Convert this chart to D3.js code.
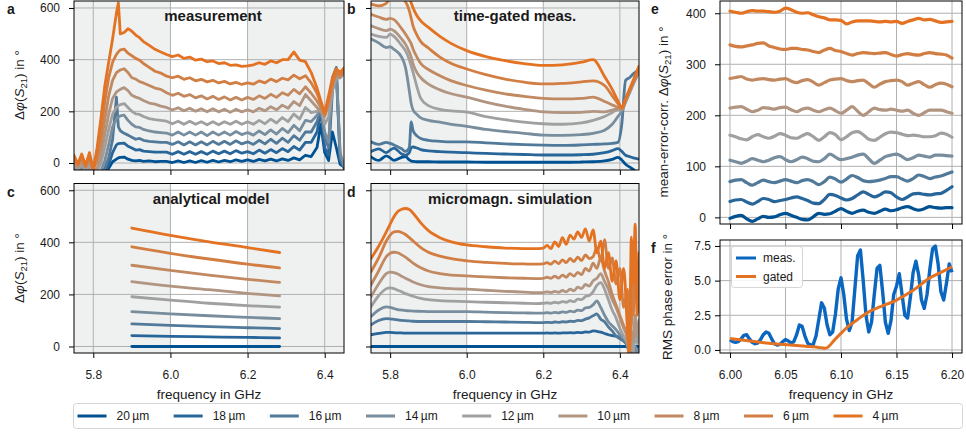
<!DOCTYPE html>
<html>
<head>
<meta charset="utf-8">
<script src="https://cdn.jsdelivr.net/npm/d3@7"></script>
<style>
  body { margin: 0; background: #fff; }
  svg text { font-family: "Liberation Sans", Arial, sans-serif; fill: #1a1a1a; }
</style>
</head>
<body>
<svg id="chart" width="966" height="432"></svg>
<script>
// widths of the waveguides, legend order (20 µm first)
const widths = ['20', '18', '16', '14', '12', '10', '8', '6', '4'];
const widthColors = ['#005293', '#28669a', '#50799a', '#788d9d', '#a0a0a0', '#b19581', '#c28961', '#d27e42', '#e37222'];

// a: measurement
const freqMeas = [5.75, 5.76, 5.77, 5.78, 5.79, 5.80, 5.81, 5.82, 5.83, 5.84, 5.85, 5.86, 5.865, 5.87, 5.88, 5.89, 5.90, 5.91, 5.92, 5.93,
  5.945, 5.96, 5.975, 5.99, 6.005, 6.02, 6.035, 6.05, 6.065, 6.08, 6.095, 6.11, 6.125, 6.14, 6.155, 6.17, 6.185, 6.20, 6.215, 6.23,
  6.245, 6.26, 6.275, 6.29, 6.305, 6.32, 6.335, 6.35, 6.365, 6.38, 6.39, 6.40, 6.41, 6.42, 6.43, 6.44, 6.45];
const phaseMeas = [
  [-35, -45, -35, -50, -40, -55, -55, -50, -40, -20, 5, 15, 20, 22, 23, 15, 10, 8, 10, 6, 8, 5, 6, 6, 2, 8, 2, 8, 2, 9,
    3, 10, 4, 10, 5, 12, 6, 12, 6, 14, 8, 15, 8, 16, 10, 20, 12, 30, 25, 60, 150, 40, 10, 120, 60, -5, -15],
  [-30, -40, -30, -45, -35, -50, -50, -45, -35, -5, 40, 70, 75, 76, 77, 65, 58, 50, 52, 46, 44, 42, 42, 42, 34, 44, 34, 44, 34, 44,
    34, 46, 36, 46, 36, 48, 38, 44, 36, 50, 38, 52, 40, 56, 44, 64, 50, 80, 80, 120, 200, 60, 30, 280, 350, 10, -20],
  [-25, -35, -25, -40, -30, -45, -45, -40, -20, 20, 90, 255, 140, 125, 115, 108, 100, 92, 95, 88, 84, 82, 80, 80, 72, 82, 70, 82, 70, 82,
    70, 84, 72, 84, 72, 86, 74, 82, 72, 88, 74, 92, 76, 96, 80, 106, 88, 120, 120, 160, 205, 100, 60, 330, 370, 20, -15],
  [-20, -30, -15, -35, -20, -40, -40, -30, 10, 70, 140, 170, 178, 182, 185, 165, 150, 140, 138, 130, 124, 120, 118, 116, 108, 120, 108, 120, 108, 120,
    106, 120, 108, 120, 108, 122, 110, 118, 108, 124, 110, 128, 112, 134, 118, 146, 125, 165, 160, 185, 210, 120, 80, 300, 360, 40, -10],
  [-10, -25, -5, -30, -10, -35, -30, 0, 60, 130, 190, 215, 222, 226, 230, 215, 200, 190, 188, 180, 172, 168, 165, 162, 152, 162, 150, 162, 150, 160,
    148, 160, 148, 160, 150, 162, 150, 160, 150, 165, 152, 170, 155, 176, 160, 190, 170, 215, 195, 200, 215, 150, 180, 280, 330, 330, 345],
  [0, -15, 5, -20, 5, -30, -20, 30, 110, 190, 250, 275, 280, 285, 292, 280, 262, 255, 250, 242, 232, 228, 220, 215, 205, 214, 202, 212, 200, 210,
    198, 210, 198, 208, 196, 208, 198, 206, 198, 212, 202, 218, 206, 224, 212, 238, 222, 265, 240, 215, 200, 180, 225, 295, 340, 330, 350],
  [10, -10, 15, -15, 20, -25, 10, 70, 170, 260, 320, 350, 355, 360, 365, 350, 330, 325, 315, 310, 300, 290, 285, 272, 262, 270, 258, 265, 252, 260,
    248, 258, 246, 256, 244, 254, 244, 254, 246, 260, 250, 266, 254, 272, 262, 285, 268, 295, 270, 240, 215, 185, 230, 300, 345, 335, 355],
  [20, 0, 25, -5, 30, -20, 30, 120, 240, 330, 390, 420, 430, 438, 441, 425, 415, 405, 398, 385, 370, 355, 348, 336, 330, 336, 324, 330, 318, 324,
    314, 320, 310, 316, 306, 312, 304, 310, 305, 318, 310, 325, 315, 328, 322, 340, 326, 338, 310, 270, 230, 190, 240, 310, 350, 340, 360],
  [30, -5, 35, -10, 40, -25, 60, 175, 300, 390, 480, 580, 620, 500, 505, 520, 510, 495, 485, 470, 455, 440, 430, 420, 412, 418, 405, 410, 398, 402,
    392, 395, 385, 388, 378, 380, 374, 376, 380, 388, 382, 395, 388, 400, 400, 430, 398, 392, 350, 290, 240, 195, 260, 330, 365, 350, 368]
];

// b: time-gated measurement
const freqGated = [5.75, 5.77, 5.79, 5.80, 5.81, 5.83, 5.84, 5.85, 5.855, 5.86, 5.87, 5.88, 5.90, 5.93, 5.96, 6.00,
  6.05, 6.10, 6.15, 6.20, 6.25, 6.30, 6.33, 6.36, 6.38, 6.395, 6.405, 6.415, 6.425, 6.435, 6.45];
const phaseGated = [
  [24, 10, 28, 20, 10, 22, 25, 12, 8, 6, 5, 5, 5, 4, 4, 4, 3, 3, 3, 3, 3, 4, 5, 8, 14, 22, 12, -5, -15, -25, -45],
  [44, 55, 40, 50, 58, 35, 30, 40, 60, 62, 58, 52, 47, 44, 42, 40, 37, 35, 33, 31, 31, 32, 34, 40, 48, 56, 45, 30, 25, 20, 15],
  [82, 72, 80, 76, 70, 55, 45, 60, 159, 125, 105, 95, 88, 84, 82, 82, 78, 74, 71, 69, 68, 70, 72, 74, 76, 80, 150, 320, 330, 345, 360],
  [480, 465, 447, 450, 440, 410, 370, 280, 230, 205, 188, 175, 165, 158, 150, 142, 130, 122, 115, 108, 107, 110, 115, 127, 150, 180, 200, 235, 270, 305, 352],
  [499, 490, 486, 499, 490, 455, 435, 400, 375, 350, 295, 250, 222, 208, 202, 197, 180, 168, 158, 152, 150, 155, 165, 180, 195, 208, 206, 240, 276, 310, 356],
  [531, 520, 512, 518, 512, 480, 460, 430, 410, 383, 350, 330, 305, 283, 268, 255, 236, 220, 208, 198, 195, 196, 200, 198, 205, 210, 208, 242, 278, 312, 358],
  [576, 565, 556, 560, 555, 520, 499, 475, 462, 440, 410, 385, 362, 338, 318, 300, 282, 268, 258, 250, 248, 250, 255, 238, 225, 215, 210, 245, 280, 315, 362],
  [615, 608, 618, 640, 650, 640, 625, 590, 560, 530, 495, 470, 445, 410, 385, 364, 342, 325, 313, 306, 308, 314, 318, 300, 260, 230, 212, 245, 280, 315, 365],
  [680, 690, 700, 700, 695, 680, 665, 640, 620, 600, 570, 550, 525, 490, 462, 435, 412, 396, 385, 378, 380, 390, 400, 335, 285, 240, 215, 250, 285, 320, 375]
];

// c: analytical model
const freqModel = [5.9, 6.0, 6.1, 6.2, 6.283];
const phaseModel = [
  [0, 0, 0, 0, 0],
  [42, 39, 37, 35, 33],
  [87, 81, 76, 72, 69],
  [134, 125, 118, 112, 107],
  [191, 178, 166, 157, 151],
  [249, 232, 218, 204, 194],
  [312, 292, 274, 258, 246],
  [383, 358, 336, 316, 302],
  [455, 427, 402, 380, 361]
];

// d: micromagnetic simulation
const freqSim = [5.75, 5.77, 5.79, 5.80, 5.81, 5.82, 5.83, 5.84, 5.85, 5.86, 5.88, 5.90, 5.93, 5.96, 6.00, 6.05, 6.10, 6.15, 6.18, 6.20,
  6.21, 6.22, 6.23, 6.24, 6.25, 6.26, 6.27, 6.28, 6.29, 6.30, 6.31, 6.32, 6.33, 6.34, 6.35, 6.36, 6.37, 6.38, 6.39, 6.40,
  6.41, 6.42, 6.425, 6.43, 6.435, 6.44, 6.445, 6.45];
const phaseSim = [
  [0, 0, 0, 0, 0, 0, 0, 0, 0, 0, 0, 0, 0, 0, 0, 0, 0, 0, 0, 0, 0, 0, 0, 0, 0, 0, 0, 0, 0, 0, 0, 0, 0, 0, 0, 0, 0, 0, 0, 0, 0, 0, 0, 0, 0, 0, 0, 0],
  [45, 50, 54, 54, 53, 52, 52, 51, 51, 51, 51, 51, 51, 51, 51, 51, 51, 51, 51, 51, 52, 51, 52, 51, 52, 52, 53, 52, 54, 53,
    56, 55, 60, 58, 55, 50, 45, 42, 40, 35, 25, 10, -20, -5, -30, -10, -20, -15],
  [83, 100, 107, 106, 104, 102, 100, 99, 98, 97, 96, 96, 96, 96, 96, 95, 94, 93, 92, 92, 93, 92, 94, 93, 95, 94, 97, 96, 100, 99,
    105, 110, 118, 125, 105, 95, 75, 60, 40, 30, 20, 0, -30, 5, -20, -5, -15, -10],
  [115, 140, 152, 150, 146, 142, 140, 138, 137, 136, 135, 134, 134, 134, 134, 132, 130, 129, 128, 128, 130, 128, 131, 129, 133, 131, 136, 133, 140, 138,
    148, 150, 160, 175, 150, 120, 95, 80, 65, 45, 30, 10, -20, 10, -30, 0, -20, -10],
  [153, 195, 222, 225, 222, 216, 210, 203, 198, 193, 185, 180, 176, 174, 172, 170, 168, 166, 165, 166, 168, 166, 170, 167, 172, 170, 176, 172, 182, 180,
    192, 196, 210, 235, 245, 220, 180, 140, 110, 70, 40, 10, -30, 20, -20, 60, 10, 40],
  [191, 240, 280, 286, 284, 278, 270, 262, 255, 248, 237, 230, 225, 222, 220, 216, 212, 209, 207, 207, 210, 207, 212, 208, 215, 210, 220, 214, 228, 222,
    238, 232, 252, 262, 280, 250, 220, 180, 150, 110, 70, 30, -10, 60, 20, 120, 40, 100],
  [236, 290, 345, 358, 362, 360, 352, 343, 332, 320, 302, 290, 280, 274, 271, 267, 264, 262, 261, 262, 266, 262, 270, 263, 274, 266, 280, 270, 285, 276,
    300, 290, 320, 300, 340, 290, 250, 200, 160, 120, 80, 40, -20, 80, 180, 260, 160, 240],
  [287, 340, 405, 428, 440, 442, 438, 430, 418, 405, 380, 362, 347, 337, 329, 323, 319, 317, 316, 317, 322, 316, 328, 318, 333, 322, 338, 326, 343, 330,
    352, 338, 345, 380, 330, 410, 300, 340, 240, 300, 150, 220, 60, 300, 120, 410, 200, 330],
  [338, 385, 440, 470, 498, 518, 527, 530, 526, 512, 475, 445, 418, 402, 390, 383, 378, 376, 376, 378, 388, 376, 402, 384, 418, 392, 428, 412, 440, 418,
    452, 405, 448, 360, 405, 300, 360, 250, 330, 180, 300, 60, -40, 420, 240, 470, 120, 360]
];

// e: mean-error-corrected measurement
const freqCorr = [6.000, 6.005, 6.010, 6.015, 6.020, 6.025, 6.030, 6.035, 6.040, 6.045, 6.050, 6.055, 6.060, 6.065, 6.070, 6.075, 6.080,
  6.085, 6.090, 6.095, 6.100, 6.105, 6.110, 6.115, 6.120, 6.125, 6.130, 6.135, 6.140, 6.145, 6.150, 6.155, 6.160, 6.165, 6.170,
  6.175, 6.180, 6.185, 6.190, 6.195, 6.200];
const phaseCorr = [
  [-2, 2, 4, -3, -8, -3, 2, 0, 1, 5, 8, 4, 0, -4, -5, 1, 8, 6, 7, 12, 17, 12, 8, 12, 14, 10, 8, 12, 16, 13, 15, 19, 21, 17, 14, 17, 21, 19, 18, 19, 19],
  [31, 34, 35, 30, 26, 31, 37, 35, 31, 33, 35, 38, 40, 37, 33, 28, 27, 35, 45, 43, 38, 34, 37, 44, 50, 45, 40, 44, 50, 48, 40, 35, 40, 46, 47, 45, 44, 46, 47, 53, 60],
  [70, 73, 74, 68, 63, 68, 73, 70, 68, 71, 74, 71, 68, 72, 74, 70, 64, 70, 79, 75, 69, 75, 82, 78, 72, 70, 71, 73, 76, 80, 80, 75, 71, 76, 83, 80, 76, 79, 81, 85, 89],
  [112, 109, 106, 110, 115, 112, 109, 112, 117, 119, 113, 109, 113, 118, 115, 110, 109, 115, 124, 118, 113, 115, 118, 122, 124, 115, 106, 112, 119, 122, 124, 119, 113, 117, 122, 120, 118, 122, 122, 121, 120],
  [161, 158, 154, 152, 158, 162, 158, 155, 159, 164, 161, 156, 155, 160, 164, 158, 151, 158, 166, 162, 152, 158, 166, 168, 162, 153, 151, 157, 164, 167, 166, 163, 160, 161, 160, 158, 158, 160, 165, 163, 157],
  [214, 216, 217, 212, 207, 210, 215, 214, 212, 215, 216, 211, 207, 212, 214, 210, 207, 211, 214, 209, 204, 210, 217, 208, 200, 207, 214, 211, 210, 212, 210, 208, 210, 204, 200, 205, 210, 210, 210, 207, 204],
  [272, 274, 276, 271, 269, 271, 272, 270, 269, 271, 272, 267, 264, 268, 270, 265, 259, 264, 269, 271, 272, 268, 266, 268, 269, 262, 255, 261, 266, 268, 269, 266, 259, 263, 266, 260, 255, 260, 263, 261, 256],
  [338, 335, 334, 336, 338, 341, 342, 336, 333, 330, 329, 331, 331, 329, 328, 325, 323, 328, 331, 327, 325, 321, 318, 321, 323, 322, 321, 322, 323, 319, 316, 319, 321, 319, 318, 321, 323, 321, 320, 318, 312],
  [404, 402, 400, 403, 405, 404, 404, 403, 402, 404, 410, 407, 402, 400, 401, 397, 393, 391, 387, 387, 386, 379, 383, 385, 385, 385, 384, 383, 384, 383, 384, 380, 384, 387, 390, 387, 388, 385, 382, 383, 384]
];

// f: RMS phase error
const freqRms = [6.0000, 6.0025, 6.0050, 6.0075, 6.0100, 6.0125, 6.0150, 6.0175, 6.0200, 6.0225, 6.0250, 6.0275, 6.0300, 6.0325,
  6.0350, 6.0375, 6.0400, 6.0425, 6.0450, 6.0475, 6.0500, 6.0525, 6.0550, 6.0575, 6.0600, 6.0625, 6.0650, 6.0675, 6.0700, 6.0725,
  6.0750, 6.0775, 6.0800, 6.0825, 6.0850, 6.0875, 6.0900, 6.0925, 6.0950, 6.0975, 6.1000, 6.1025, 6.1050, 6.1075, 6.1100, 6.1125,
  6.1150, 6.1175, 6.1200, 6.1225, 6.1250, 6.1275, 6.1300, 6.1325, 6.1350, 6.1375, 6.1400, 6.1425, 6.1450, 6.1475, 6.1500, 6.1525,
  6.1550, 6.1575, 6.1600, 6.1625, 6.1650, 6.1675, 6.1700, 6.1725, 6.1750, 6.1775, 6.1800, 6.1825, 6.1850, 6.1875, 6.1900, 6.1925,
  6.1950, 6.1975, 6.2000];
const rmsMeas = [0.75, 0.6, 0.55, 0.6, 0.8, 1.05, 1.1, 0.8, 0.55, 0.45, 0.5, 0.75, 1.1, 1.3, 1.2, 0.8, 0.45, 0.35, 0.4, 0.6,
  0.75, 0.65, 0.5, 0.6, 1.1, 1.8, 1.7, 1.0, 0.5, 0.35, 0.4, 1.0, 2.2, 3.4, 3.0, 1.8, 1.1, 1.3, 2.6, 4.4,
  5.2, 4.0, 2.2, 1.4, 2.0, 4.4, 6.8, 7.2, 5.0, 2.5, 1.3, 2.0, 4.0, 5.9, 6.1, 4.2, 2.0, 1.2, 2.1, 4.0,
  4.6, 5.5, 4.0, 2.5, 2.3, 3.8, 5.6, 6.4, 5.4, 3.6, 3.0, 4.0, 5.8, 7.3, 7.5, 6.2, 4.2, 3.6, 4.8, 6.2, 5.6];
const freqRmsGated = [6.00, 6.02, 6.04, 6.06, 6.08, 6.086, 6.095, 6.105, 6.115, 6.125, 6.135, 6.15, 6.165, 6.18, 6.19, 6.20];
const rmsGated = [0.82, 0.62, 0.45, 0.32, 0.18, 0.12, 0.8, 1.6, 2.2, 2.75, 3.1, 3.6, 4.3, 5.2, 5.6, 6.0];
const rmsLabels = ['meas.', 'gated'];
const rmsColors = ['#0b66bf', '#e37222'];

const bandTicks = [5.8, 6.0, 6.2, 6.4];
const phaseTicks = [0, 200, 400, 600];
const corrTicks = [0, 100, 200, 300, 400];
const zoomTicks = [6.00, 6.05, 6.10, 6.15, 6.20];
const rmsTicks = [0, 2.5, 5.0, 7.5];

const svg = d3.select('#chart');
const grid = '#b0b0b0';
const shadeColor = '#eff0f0';

const panel = (p) => {
  const x = d3.scaleLinear().domain(p.xDomain).range([p.left, p.right]);
  const y = d3.scaleLinear().domain(p.yDomain).range([p.bottom, p.top]);
  const g = svg.append('g');

  g.append('rect')
    .attr('x', p.left).attr('y', p.top)
    .attr('width', p.right - p.left).attr('height', p.bottom - p.top)
    .attr('fill', '#fff');

  if (p.shade) {
    g.append('rect')
      .attr('x', p.left).attr('y', p.top)
      .attr('width', x(6.0) - p.left).attr('height', p.bottom - p.top)
      .attr('fill', shadeColor);
    g.append('rect')
      .attr('x', x(6.2)).attr('y', p.top)
      .attr('width', p.right - x(6.2)).attr('height', p.bottom - p.top)
      .attr('fill', shadeColor);
  }

  g.selectAll('.gx').data(p.xTicks).enter().append('line')
    .attr('x1', d => x(d)).attr('x2', d => x(d))
    .attr('y1', p.top).attr('y2', p.bottom)
    .attr('stroke', grid).attr('stroke-width', 1);
  g.selectAll('.gy').data(p.yTicks).enter().append('line')
    .attr('x1', p.left).attr('x2', p.right)
    .attr('y1', d => y(d)).attr('y2', d => y(d))
    .attr('stroke', grid).attr('stroke-width', 1);

  const clipId = 'clip-' + p.name;
  svg.append('clipPath').attr('id', clipId).append('rect')
    .attr('x', p.left).attr('y', p.top)
    .attr('width', p.right - p.left).attr('height', p.bottom - p.top);
  const plot = g.append('g').attr('clip-path', `url(#${clipId})`);

  const xAxis = g.append('g')
    .attr('transform', `translate(0,${p.bottom})`)
    .call(d3.axisBottom(x).tickValues(p.xTicks).tickSize(5).tickPadding(12)
      .tickFormat(p.xFormat ? d3.format(p.xFormat) : () => ''));
  const yAxis = g.append('g')
    .attr('transform', `translate(${p.left},0)`)
    .call(d3.axisLeft(y).tickValues(p.yTicks).tickSize(5).tickPadding(p.yPad || 9)
      .tickFormat(p.yFormat ? d3.format(p.yFormat) : () => ''));
  [xAxis, yAxis].forEach(a => {
    a.select('.domain').remove();
    a.selectAll('line').attr('stroke', '#000');
    a.selectAll('text').attr('font-size', 12).attr('fill', '#1a1a1a')
      .style('font-family', '"Liberation Sans", Arial, sans-serif');
  });

  g.append('rect')
    .attr('x', p.left).attr('y', p.top)
    .attr('width', p.right - p.left).attr('height', p.bottom - p.top)
    .attr('fill', 'none').attr('stroke', '#000').attr('stroke-width', 1);

  if (p.title) {
    g.append('text').attr('x', p.titleX).attr('y', p.top + 20)
      .attr('text-anchor', 'middle').attr('font-size', 15).attr('font-weight', 'bold')
      .text(p.title);
  }
  g.append('text').attr('x', p.letterX).attr('y', p.top + 13)
    .attr('font-size', 14).attr('font-weight', 'bold').text(p.letter);

  return { x, y, plot, g };
};

const phaseLabel = (g, cx, cy, prefix) => {
  const t = g.append('text')
    .attr('transform', `translate(${cx},${cy}) rotate(-90)`)
    .attr('text-anchor', 'middle').attr('font-size', 13.5);
  t.append('tspan').text(prefix + 'Δ');
  t.append('tspan').attr('font-style', 'italic').text('φ');
  t.append('tspan').text('(');
  t.append('tspan').attr('font-style', 'italic').text('S');
  t.append('tspan').attr('font-size', 9.5).attr('dy', 3).text('21');
  t.append('tspan').attr('dy', -3).text(')');
  t.append('tspan').text(' in °');
};

const drawSeries = (pn, freqs, sets, curve, width) => {
  const line = d3.line()
    .x((d, i) => pn.x(freqs[i]))
    .y(d => pn.y(d))
    .curve(curve);
  pn.plot.selectAll('.series').data(sets).enter().append('path')
    .attr('d', d => line(d))
    .attr('fill', 'none')
    .attr('stroke', (d, i) => widthColors[i])
    .attr('stroke-width', width)
    .attr('stroke-linejoin', 'round')
    .attr('stroke-linecap', 'round');
};

const bandX = [5.75, 6.45];
const phaseY = [-27, 627];
const phaseY2 = [-25, 626];

const pa = panel({ name: 'a', left: 74, right: 344, top: 1, bottom: 170, xDomain: bandX, yDomain: phaseY,
  xTicks: bandTicks, yTicks: phaseTicks, yFormat: 'd', shade: true, title: 'measurement', titleX: 213, letter: 'a', letterX: 7 });
drawSeries(pa, freqMeas, phaseMeas, d3.curveLinear, 2.8);

const pb = panel({ name: 'b', left: 371, right: 639, top: 1, bottom: 170, xDomain: bandX, yDomain: phaseY,
  xTicks: bandTicks, yTicks: phaseTicks, shade: true, title: 'time-gated meas.', titleX: 515, letter: 'b', letterX: 347 });
drawSeries(pb, freqGated, phaseGated, d3.curveMonotoneX, 2.8);

const pc = panel({ name: 'c', left: 74, right: 344, top: 183.5, bottom: 353, xDomain: bandX, yDomain: phaseY2,
  xTicks: bandTicks, yTicks: phaseTicks, xFormat: '.1f', yFormat: 'd', shade: true, title: 'analytical model', titleX: 211, letter: 'c', letterX: 7 });
drawSeries(pc, freqModel, phaseModel, d3.curveMonotoneX, 2.8);

const pd = panel({ name: 'd', left: 371, right: 639, top: 183.5, bottom: 353, xDomain: bandX, yDomain: phaseY2,
  xTicks: bandTicks, yTicks: phaseTicks, xFormat: '.1f', shade: true, title: 'micromagn. simulation', titleX: 510, letter: 'd', letterX: 347 });
drawSeries(pd, freqSim, phaseSim, d3.curveMonotoneX, 2.8);

const pe = panel({ name: 'e', left: 720, right: 962, top: 1, bottom: 224, xDomain: [5.991, 6.209], yDomain: [-13, 424],
  xTicks: zoomTicks, yTicks: corrTicks, yFormat: 'd', letter: 'e', letterX: 651 });
drawSeries(pe, freqCorr, phaseCorr, d3.curveMonotoneX, 3.2);

const pf = panel({ name: 'f', left: 720, right: 962, top: 240, bottom: 353, xDomain: [5.991, 6.209], yDomain: [-0.22, 7.93],
  xTicks: zoomTicks, yTicks: rmsTicks, xFormat: '.2f', yFormat: '.1f', yPad: 4, letter: 'f', letterX: 651 });

const rmsLine = (freqs, curve) => d3.line().x((d, i) => pf.x(freqs[i])).y(d => pf.y(d)).curve(curve);
pf.plot.append('path').attr('d', rmsLine(freqRms, d3.curveLinear)(rmsMeas))
  .attr('fill', 'none').attr('stroke', rmsColors[0]).attr('stroke-width', 3.4).attr('stroke-linejoin', 'round');
pf.plot.append('path').attr('d', rmsLine(freqRmsGated, d3.curveMonotoneX)(rmsGated))
  .attr('fill', 'none').attr('stroke', rmsColors[1]).attr('stroke-width', 3).attr('stroke-linejoin', 'round');

// legend inside f
const lf = svg.append('g');
lf.append('rect').attr('x', 731.5).attr('y', 246.5).attr('width', 71).attr('height', 41).attr('rx', 3)
  .attr('fill', '#fff').attr('fill-opacity', 0.85).attr('stroke', '#d5d5d5');
rmsLabels.forEach((lab, i) => {
  const yy = 258 + i * 18.5;
  lf.append('line').attr('x1', 736).attr('x2', 756).attr('y1', yy).attr('y2', yy)
    .attr('stroke', rmsColors[i]).attr('stroke-width', 3);
  lf.append('text').attr('x', 763).attr('y', yy + 4.3).attr('font-size', 12).text(lab);
});

// axis labels
phaseLabel(svg, 24, 85, '');
phaseLabel(svg, 24, 268, '');
phaseLabel(svg, 668, 112, 'mean-error-corr. ');
svg.append('text').attr('transform', 'translate(672,297) rotate(-90)')
  .attr('text-anchor', 'middle').attr('font-size', 13.5).text('RMS phase error in °');
[209, 505, 841].forEach(cx => {
  svg.append('text').attr('x', cx).attr('y', 399).attr('text-anchor', 'middle')
    .attr('font-size', 13.5).text('frequency in GHz');
});

// bottom legend
const lg = svg.append('g');
lg.append('rect').attr('x', 73.5).attr('y', 403.5).attr('width', 889).attr('height', 25).attr('rx', 3)
  .attr('fill', '#fff').attr('stroke', '#d5d5d5');
let lx = 77.5;
widths.forEach((w, i) => {
  lg.append('line').attr('x1', lx).attr('x2', lx + 29).attr('y1', 416).attr('y2', 416)
    .attr('stroke', widthColors[i]).attr('stroke-width', 3);
  const t = lg.append('text').attr('x', lx + 39).attr('y', 420.3).attr('font-size', 12).text(w + '\u2009µm');
  lx += 39 + t.node().getComputedTextLength() + 24.5;
});
</script>
</body>
</html>
